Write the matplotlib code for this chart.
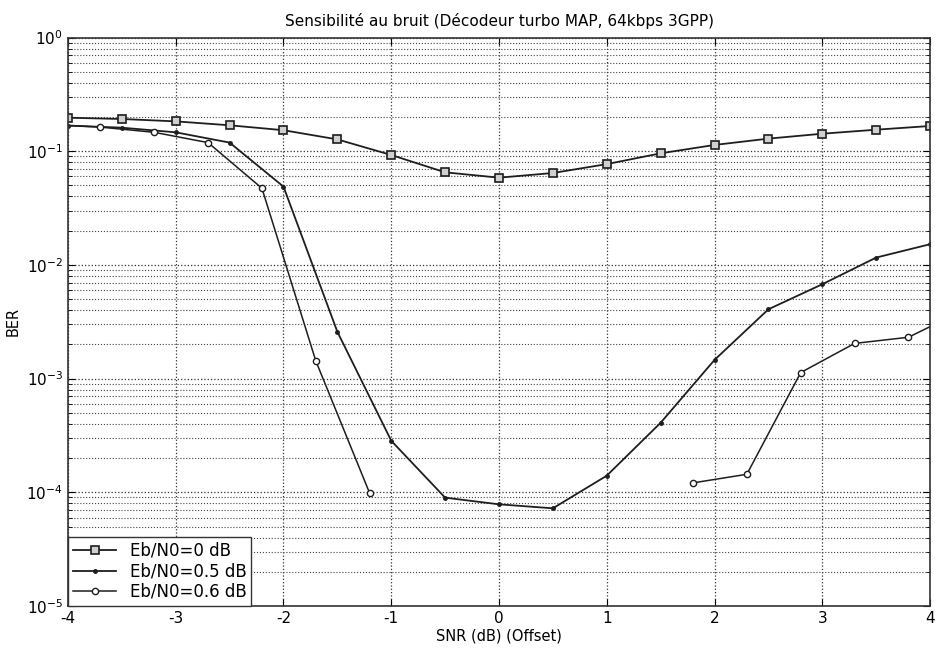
import numpy as np
import matplotlib.pyplot as plt

plt.rcParams['axes.unicode_minus'] = False
plt.rcParams['font.family'] = 'DejaVu Sans'

# Eb/N0 = 0 dB
snr_0 = [-4, -3.5, -3, -2.5, -2, -1.5, -1, -0.5, 0, 0.5, 1, 1.5, 2, 2.5, 3, 3.5, 4]
ber_0 = [0.197, 0.192, 0.183, 0.169, 0.153, 0.127, 0.0926, 0.0652, 0.0585, 0.0643,
         0.077, 0.0958, 0.1135, 0.129, 0.1425, 0.1546, 0.1666]

# Eb/N0 = 0.5 dB
snr_05 = [-4, -3.5, -3, -2.5, -2, -1.5, -1, -0.5, 0, 0.5, 1, 1.5, 2, 2.5, 3, 3.5, 4]
ber_05 = [0.168, 0.161, 0.1466, 0.119, 0.0488, 2.58e-3, 2.84e-4, 8.97e-5, 7.84e-5, 7.23e-5,
          1.40e-4, 4.09e-4, 1.46e-3, 4.07e-3, 6.76e-3, 1.16e-2, 1.52e-2]

# Eb/N0 = 0.6 dB (no errors measured between -0.7 and 1.3)
snr_06 = [-4.2, -3.7, -3.2, -2.7, -2.2, -1.7, -1.2, np.nan, 1.8, 2.3, 2.8, 3.3, 3.8, 4.3]
ber_06 = [0.172, 0.163, 0.1466, 0.119, 0.0472, 1.43e-3, 9.8e-5, np.nan, 1.21e-4, 1.44e-4,
          1.13e-3, 2.04e-3, 2.31e-3, 3.95e-3]

fig = plt.figure(figsize=(9.35, 6.5), dpi=100)
ax = fig.add_axes([0.0727, 0.0677, 0.922, 0.8746])

lc = '#1e1e1e'
ax.semilogy(snr_0, ber_0, '-s', color=lc, lw=1.3, ms=5.5, mfc='#d0d0d0', mec=lc, mew=1.2,
            label='Eb/N0=0 dB')
ax.semilogy(snr_05, ber_05, '-', marker='.', color=lc, lw=1.3, ms=5, label='Eb/N0=0.5 dB')
ax.semilogy(snr_06, ber_06, '-o', color=lc, lw=1.1, ms=4.5, mfc='white', mec=lc, mew=1.0,
            label='Eb/N0=0.6 dB')

ax.set_xlim(-4, 4)
ax.set_ylim(1e-5, 1)
ax.set_xticks(range(-4, 5))
ax.grid(True, which='major', axis='both', linestyle=':', color='#333333', lw=0.9)
ax.grid(True, which='minor', axis='y', linestyle=':', color='#444444', lw=0.8)
ax.tick_params(direction='in', which='both', top=True, right=True, labelsize=11)
ax.tick_params(which='major', length=5)
ax.tick_params(which='minor', length=3)
for s in ax.spines.values():
    s.set_color('#333333')
    s.set_linewidth(1.2)

ax.set_xlabel('SNR (dB) (Offset)', fontsize=10.5, labelpad=2)
ax.set_ylabel('BER', fontsize=10.5)
ax.set_title('Sensibilité au bruit (Décodeur turbo MAP, 64kbps 3GPP)', fontsize=11, pad=8)

leg = ax.legend(loc='lower left', fontsize=12, frameon=True, fancybox=False,
                borderaxespad=0, handlelength=2.6, labelspacing=0.15, borderpad=0.3)
leg.get_frame().set_edgecolor('#333333')
leg.get_frame().set_alpha(1)

fig.savefig('out.png', dpi=100)
